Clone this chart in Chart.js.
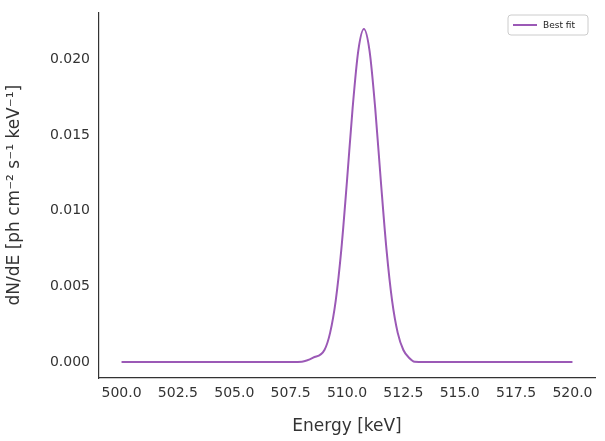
<!DOCTYPE html>
<html><head><meta charset="utf-8">
<script src="https://cdn.jsdelivr.net/npm/chart.js@4"></script>
<style>html,body{margin:0;padding:0;background:#fff}#w{width:605px;height:441px}</style>
</head><body><div id="w"><canvas id="c"></canvas></div>
<script>
const energies = [500, 505, 507, 507.5, 508, 508.5, 508.75, 509, 509.25, 509.5, 509.75, 510, 510.25, 510.5, 510.75, 511, 511.25, 511.5, 511.75, 512, 512.25, 512.5, 512.75, 513, 513.25, 513.5, 514, 514.5, 515, 517, 520];
const flux = [0, 0, 0.0000002, 0.0000025, 0.0000255, 0.00029, 0.0008, 0.00193, 0.00406, 0.00746, 0.01198, 0.01679, 0.02056, 0.0220, 0.02056, 0.01679, 0.01198, 0.00746, 0.00406, 0.00193, 0.0008, 0.00029, 0.0000255, 0.0000025, 0.0000002, 0, 0, 0, 0, 0, 0];
// energies aligned with peak at 511
const xs = [500, 505, 507, 507.5, 508, 508.5, 508.75, 509, 509.25, 509.5, 509.75, 510, 510.25, 510.5, 510.75, 511, 511.25, 511.5, 511.75, 512, 512.25, 512.5, 513, 513.5, 514, 514.5, 515, 516, 517, 518, 520];
const ys = [0, 0, 0.0000013, 0.0000255, 0.00029, 0.00193, 0.00406, 0.00746, 0.01198, 0.01679, 0.02056, 0.0220, 0.02056, 0.01679, 0.01198, 0.00746, 0.00406, 0.00193, 0.0008, 0.00029, 0.0000255, 0.0000013, 0, 0, 0, 0, 0, 0, 0, 0, 0];
const xsFix = [500, 505, 507, 507.5, 508, 508.5, 509, 509.25, 509.5, 509.75, 510, 510.25, 510.5, 510.75, 511, 511.25, 511.5, 511.75, 512, 512.25, 512.5, 512.75, 513, 513.5, 514, 515, 520];
const ysFix = [0, 0, 0, 0.0000013, 0.0000255, 0.00029, 0.00193, 0.00406, 0.00746, 0.01198, 0.01679, 0.02056, 0.0220, 0.02056, 0.01679, 0.01198, 0.00746, 0.00406, 0.00193, 0.0008, 0.00029, 0.0000255, 0.0000013, 0, 0, 0, 0];
// peak must be at 511: shift labels
const peakX = [500, 505, 507, 508, 508.5, 509, 509.25, 509.5, 509.75, 510, 510.25, 510.5, 510.75, 511, 511.25, 511.5, 511.75, 512, 512.25, 512.5, 512.75, 513, 513.5, 514, 515, 520];
const peakY = [0, 0, 0.0000013, 0.0000255, 0.00029, 0.0008, 0.00193, 0.00406, 0.00746, 0.01198, 0.01679, 0.02056, 0.0220, 0.02056, 0.01679, 0.01198, 0.00746, 0.00406, 0.00193, 0.0008, 0.00029, 0.0000255, 0.0000013, 0, 0, 0];
const xTicks = [500, 502.5, 505, 507.5, 510, 512.5, 515, 517.5, 520];
const yTicks = [0, 0.005, 0.010, 0.015, 0.020];
const col = '#333';
const legendPlugin = {id:'lg', afterDraw(ch){const c=ch.ctx;const r=ch.chartArea.right;c.save();
 c.fillStyle='#fff';c.strokeStyle='#ccc';c.lineWidth=1;c.beginPath();c.roundRect(r-87,15,80,20,3);c.fill();c.stroke();
 c.strokeStyle='#9b59b6';c.lineWidth=2;c.beginPath();c.moveTo(r-82,25);c.lineTo(r-58,25);c.stroke();
 c.fillStyle='#222';c.font='9px DejaVu Sans';c.textBaseline='middle';c.fillText('Best fit',r-52,25.5);c.restore();}};
new Chart(document.getElementById('c'),{type:'line',
 data:{datasets:[{label:'Best fit',data:peakX.map((x,i)=>({x,y:peakY[i]})),borderColor:'#9b59b6',borderWidth:2,pointRadius:0,cubicInterpolationMode:'monotone',fill:false}]},
 options:{responsive:true,maintainAspectRatio:false,animation:false,layout:{padding:{top:10,right:10,left:0,bottom:0}},
  plugins:{legend:{display:false},tooltip:{enabled:false}},
  scales:{
   x:{type:'linear',min:499,max:521,afterFit(s){s.height=63;},afterBuildTicks(s){s.ticks=xTicks.map(v=>({value:v}));},
    grid:{display:false,drawTicks:true,tickLength:5,tickColor:col},border:{color:col,width:1.2},
    ticks:{color:col,font:{family:'DejaVu Sans',size:14},padding:2,maxRotation:0,callback:v=>v.toFixed(1)},
    title:{display:true,text:'Energy [keV]',color:col,font:{family:'DejaVu Sans',size:17},padding:{top:2}}},
   y:{min:-0.00105,max:0.0231,afterFit(s){s.width=99;},afterBuildTicks(s){s.ticks=yTicks.map(v=>({value:v}));},
    grid:{display:false,drawTicks:true,tickLength:5,tickColor:col},border:{color:col,width:1.2},
    ticks:{color:col,font:{family:'DejaVu Sans',size:14},padding:4,callback:v=>v.toFixed(3)},
    title:{display:true,text:'dN/dE [ph cm⁻² s⁻¹ keV⁻¹]',color:col,font:{family:'DejaVu Sans',size:17},padding:{bottom:4}}}}},
 plugins:[legendPlugin]});
</script></body></html>
